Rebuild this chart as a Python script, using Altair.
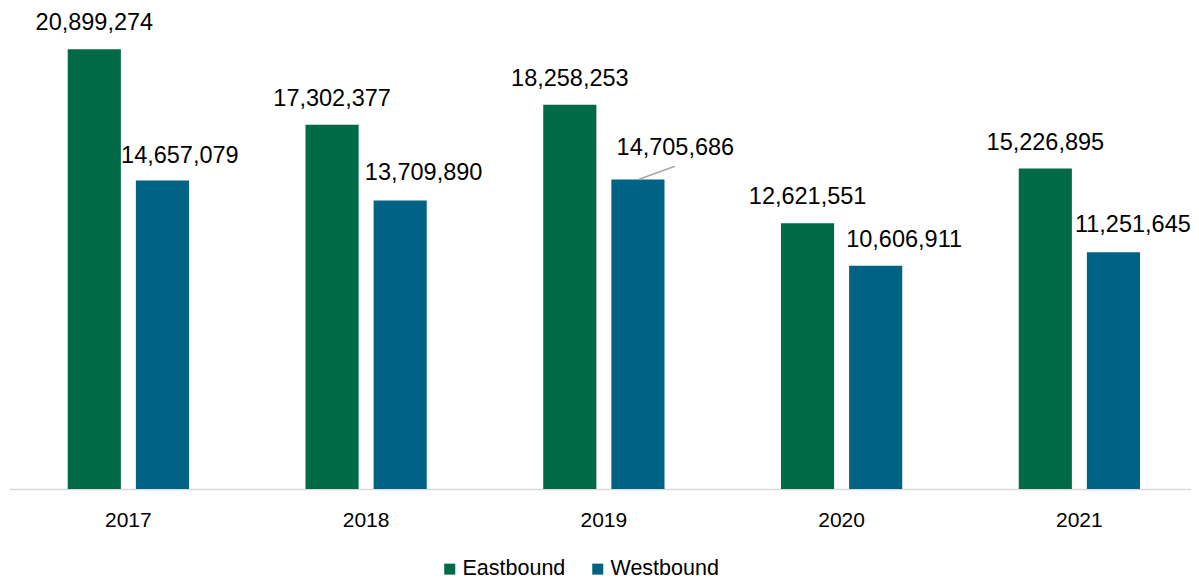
import altair as alt
import pandas as pd

years = ["2017", "2018", "2019", "2020", "2021"]
eastbound = [20899274, 17302377, 18258253, 12621551, 15226895]
westbound = [14657079, 13709890, 14705686, 10606911, 11251645]
directions = ["Eastbound", "Westbound"]
colors = ["#006A47", "#006385"]

rows = []
for y, e, w in zip(years, eastbound, westbound):
    rows.append({"Year": y, "Direction": "Eastbound", "Value": e})
    rows.append({"Year": y, "Direction": "Westbound", "Value": w})
df = pd.DataFrame(rows)

FONT = "Liberation Sans"
west_label_dx = [51.5, 57.5, 71.5, 62.5, 53.5]
west_label_dy = [-18, -20, -25, -19, -20]

x_scale = alt.Scale(paddingInner=0.49, paddingOuter=0.245, range=[0, 1188.75])
x_enc = alt.X("Year:N", sort=years, scale=x_scale,
              axis=alt.Axis(title=None, ticks=False, tickSize=0, labelAngle=0,
                            labelFont=FONT, labelFontSize=21, labelColor="#000000",
                            labelBaseline="alphabetic", labelPadding=37.5,
                            domainColor="#d9d9d9", domainWidth=1.5, grid=False))
y_scale = alt.Scale(domain=[0, 22000000], nice=False)
y_enc = alt.Y("Value:Q", scale=y_scale, axis=None)

base = alt.Chart(df)

bars = base.mark_bar().encode(
    x=x_enc,
    xOffset=alt.XOffset("Direction:N", sort=directions,
                        scale=alt.Scale(paddingInner=0.22, paddingOuter=0)),
    y=y_enc,
    color=alt.Color("Direction:N", sort=directions,
                    scale=alt.Scale(domain=directions, range=colors),
                    legend=alt.Legend(title=None, orient="none", direction="horizontal",
                                      legendX=429.5, legendY=532,
                                      symbolType="square", symbolSize=121,
                                      symbolStrokeWidth=0, labelFont=FONT,
                                      labelFontSize=21.5, labelColor="#000000",
                                      labelOffset=2, columnPadding=21, padding=0)),
)

east_labels = base.transform_filter(alt.datum.Direction == "Eastbound").mark_text(
    font=FONT, fontSize=23.5, color="#000000", baseline="alphabetic", dx=-34, dy=-19
).encode(
    x=alt.X("Year:N", sort=years, scale=x_scale),
    y=alt.Y("Value:Q", scale=y_scale),
    text=alt.Text("Value:Q", format=","),
)

layers = [bars, east_labels]
for yr, dxv, dyv in zip(years, west_label_dx, west_label_dy):
    layers.append(
        base.transform_filter((alt.datum.Direction == "Westbound") & (alt.datum.Year == yr))
        .mark_text(font=FONT, fontSize=23.5, color="#000000", baseline="alphabetic",
                   dx=dxv, dy=dyv)
        .encode(x=alt.X("Year:N", sort=years, scale=x_scale),
                y=alt.Y("Value:Q", scale=y_scale),
                text=alt.Text("Value:Q", format=","))
    )

leader = base.transform_filter(
    (alt.datum.Direction == "Westbound") & (alt.datum.Year == "2019")
).mark_rule(color="#a6a6a6", strokeWidth=1.5, xOffset=34.5, x2Offset=71,
            yOffset=0, y2Offset=-13.3).encode(
    x=alt.X("Year:N", sort=years, scale=x_scale),
    x2=alt.X2("Year"),
    y=alt.Y("Value:Q", scale=y_scale),
    y2=alt.Y2("Value"),
)
layers.append(leader)

chart = alt.layer(*layers).properties(
    width=1181.5, height=463,
    padding={"left": 1.5, "top": 18, "right": 0, "bottom": 91},
    autosize=alt.AutoSizeParams(type="none"),
).configure_view(stroke=None)

chart.save("out.html", embed_options={"renderer": "svg", "actions": False})
